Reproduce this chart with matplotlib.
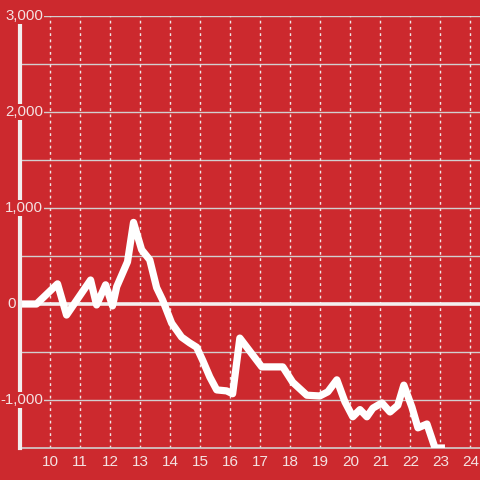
import matplotlib
matplotlib.use("Agg")
import matplotlib.pyplot as plt

plt.rcParams['font.family'] = ['Liberation Sans', 'DejaVu Sans']

# data (x in hours, y values)
x_vals = [8.98, 9.55, 10.25, 10.55, 11.35, 11.55, 11.85, 12.08, 12.22, 12.58,
          12.78, 13.05, 13.32, 13.55, 13.75, 14.05, 14.38, 14.65, 14.88, 15.08,
          15.32, 15.55, 15.88, 16.08, 16.32, 17.05, 17.75, 18.08, 18.55, 18.98,
          19.25, 19.55, 19.82, 20.08, 20.32, 20.55, 20.75, 21.05, 21.32, 21.58,
          21.78, 22.05, 22.25, 22.55, 22.82, 23.15]
y_vals = [0, 0, 210, -115, 250, -10, 200, -20, 180, 440,
          850, 565, 460, 170, 40, -200, -345, -405, -450, -585,
          -760, -895, -905, -935, -355, -655, -655, -815, -950, -958,
          -915, -790, -1020, -1175, -1100, -1175, -1085, -1030, -1125, -1055,
          -845, -1075, -1290, -1250, -1500, -1500]
x_ticks = list(range(10, 25))
y_ticks = [-1000, 0, 1000, 2000, 3000]
y_tick_labels = ['-1,000', '0', '1,000', '2,000', '3,000']

BG = '#cc292e'
TXT = '#f4e2e2'
GRID = '#d2cfcf'

fig = plt.figure(figsize=(4.8, 4.8), dpi=100, facecolor=BG)
ax = fig.add_axes([20/480, 32/480, 460/480, 432/480])
ax.set_facecolor(BG)
ax.set_xlim(9.0, 24.0 + 9.5/30)
ax.set_ylim(-1500, 3000)

# grids
for yv in range(-1000, 3001, 500):
    if yv == 0:
        continue
    ax.axhline(yv, color=GRID, lw=1.0, zorder=1)
for xv in x_ticks:
    ax.axvline(xv, color='#f0e6e6', lw=1.0, ls=(0, (2, 2.5)), zorder=1)
ax.axhline(0, color='#f4f0f0', lw=2.6, zorder=2)

ax.plot(x_vals, y_vals, color='white', lw=5.2, solid_joinstyle='round',
        solid_capstyle='butt', zorder=3, clip_on=True)

for s in ['top', 'right']:
    ax.spines[s].set_visible(False)
ax.spines['bottom'].set_color(GRID)
ax.spines['bottom'].set_linewidth(1.2)
ax.spines['left'].set_color('#f2eeee')
ax.spines['left'].set_linewidth(3)
ax.spines['left'].set_zorder(4)

ax.set_xticks(x_ticks)
ax.set_xticklabels([str(v) for v in x_ticks])
ax.tick_params(axis='x', length=0, pad=5, labelsize=11, labelcolor=TXT)
ax.set_yticks([])

# y labels drawn over the spine with background box
for yv, lab in zip(y_ticks, y_tick_labels):
    off = -4 if lab == '0' else 23
    ax.annotate(lab, xy=(0, yv), xycoords=('axes fraction', 'data'),
                xytext=(off, 0), textcoords='offset pixels',
                ha='right', va='center', fontsize=10.8, color=TXT, zorder=10,
                bbox=dict(boxstyle='square,pad=0.08', fc=BG, ec='none'),
                annotation_clip=False)

fig.savefig('out.png', dpi=100, facecolor=BG)
